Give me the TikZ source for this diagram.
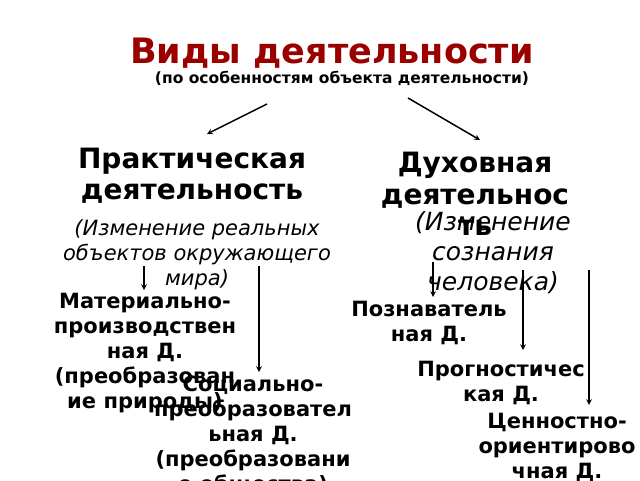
\documentclass[tikz,border=0pt]{standalone}
\usepackage{fontspec}
\setmainfont{DejaVu Sans}
\usetikzlibrary{calc}
\definecolor{titlered}{RGB}{155,0,0}

\begin{document}
\begin{tikzpicture}[x=1pt, y=-1pt, >=stealth, line width=1.5pt,
    every node/.style={inner sep=0pt, align=center, anchor=north},
    head/.style={font=\bfseries\fontsize{28}{31}\selectfont},
    note/.style={font=\itshape\fontsize{21}{25}\selectfont},
    kind/.style={font=\bfseries\fontsize{21}{25}\selectfont}]

    \useasboundingbox (0,0) rectangle (640,480);
    \clip (0,0) rectangle (640,480);

    % title
    \node[font=\bfseries\fontsize{35}{40}\selectfont, text=titlered] (title) at (332,37) {Виды деятельности};
    \node[font=\bfseries\fontsize{15.5}{18}\selectfont] (sub) at (342,70) {(по особенностям объекта деятельности)};

    % two branches
    \node[head] (pract) at (192,147.5) {Практическая\\деятельность};
    \node[head, font=\bfseries\fontsize{28}{31.5}\selectfont] (spirit) at (475,151.5) {Духовная\\деятельнос\\ть};
    \node[note] (practnote) at (197,219) {(Изменение реальных\\объектов окружающего\\мира)};
    \node[note, font=\itshape\fontsize{25}{30}\selectfont] (spiritnote) at (493,211) {(Изменение\\сознания\\человека)};

    % kinds
    \node[kind] (mat) at (145,292) {Материально-\\производствен\\ная Д.\\(преобразован\\ие природы)};
    \node[kind] (soc) at (253,375) {Социально-\\преобразовател\\ьная Д.\\(преобразовани\\е общества)};
    \node[kind] (cogn) at (429,300) {Познаватель\\ная Д.};
    \node[kind] (progn) at (501,360) {Прогностичес\\кая Д.};
    \node[kind] (val) at (557,412) {Ценностно-\\ориентирово\\чная Д.};

    % arrow ends
    \coordinate (pa) at (267,104);
    \coordinate (pb) at (207,134);
    \coordinate (sa) at (408,98);
    \coordinate (sb) at (480,140);
    \coordinate (ma) at (144,266);
    \coordinate (mb) at (144,290);
    \coordinate (oa) at (259,266);
    \coordinate (ob) at (259,372);
    \coordinate (ca) at (433,262);
    \coordinate (cb) at (433,297);
    \coordinate (ga) at (523,270);
    \coordinate (gb) at (523,350);
    \coordinate (va) at (589,270);
    \coordinate (vb) at (589,405);

    \draw[->] (pa) -- (pb);
    \draw[->] (sa) -- (sb);
    \draw[->] (ma) -- (mb);
    \draw[->] (oa) -- (ob);
    \draw[->] (ca) -- (cb);
    \draw[->] (ga) -- (gb);
    \draw[->] (va) -- (vb);
\end{tikzpicture}
\end{document}
